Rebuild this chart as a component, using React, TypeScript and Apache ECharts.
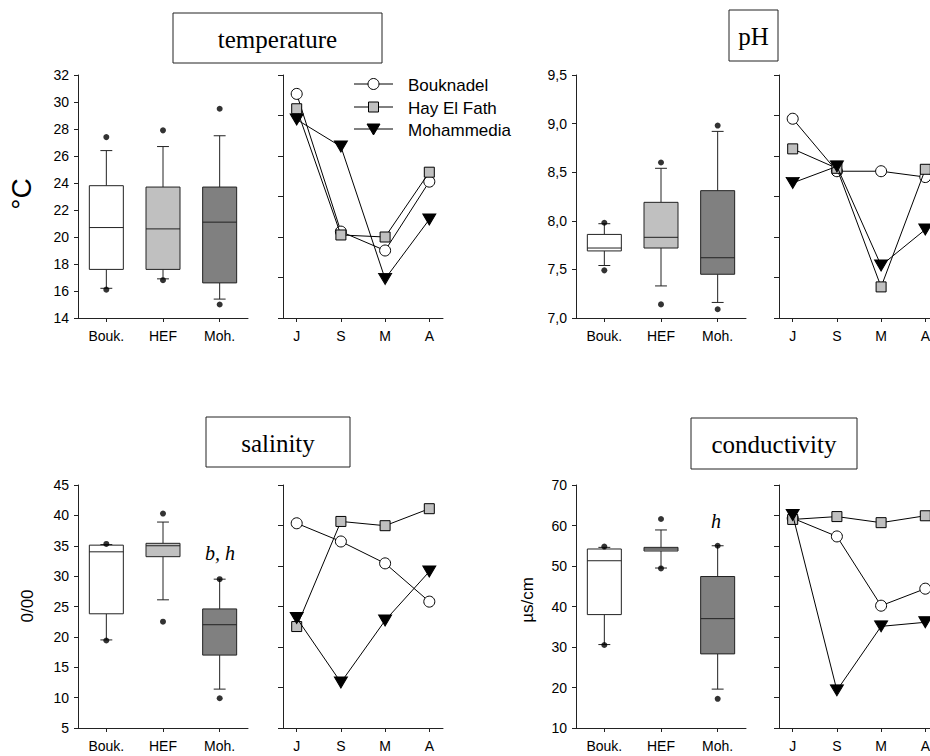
import React, { useEffect, useRef } from 'react';
import * as echarts from 'echarts';

// ---------- data ----------
const boxCategories = ['Bouk.', 'HEF', 'Moh.'];
const monthLabels = ['J', 'S', 'M', 'A'];
const siteNames = ['Bouknadel', 'Hay El Fath', 'Mohammedia'];

// box stats per site: [whiskerLow, Q1, median, Q3, whiskerHigh]
const tempBox = [
  [16.2, 17.6, 20.7, 23.8, 26.4],
  [16.9, 17.6, 20.6, 23.7, 26.7],
  [15.4, 16.6, 21.1, 23.7, 27.5],
];
const tempOutliers = [[0, 27.4], [0, 16.1], [1, 27.9], [1, 16.8], [2, 29.5], [2, 15.0]];
const tempBouknadel = [30.6, 20.4, 19.0, 24.1];
const tempHayElFath = [29.5, 20.15, 20.0, 24.8];
const tempMohammedia = [28.7, 26.7, 16.9, 21.3];

const phBox = [
  [7.54, 7.69, 7.72, 7.86, 7.97],
  [7.33, 7.72, 7.83, 8.19, 8.54],
  [7.16, 7.45, 7.62, 8.31, 8.92],
];
const phOutliers = [[0, 7.98], [0, 7.49], [1, 8.6], [1, 7.14], [2, 8.98], [2, 7.09]];
const phBouknadel = [9.05, 8.51, 8.51, 8.45];
const phHayElFath = [8.74, 8.54, 7.32, 8.53];
const phMohammedia = [8.39, 8.56, 7.54, 7.91];

const salBox = [
  [19.5, 23.8, 34.0, 35.1, 35.2],
  [26.1, 33.2, 35.0, 35.4, 38.9],
  [11.4, 17.0, 22.0, 24.6, 29.5],
];
const salOutliers = [[0, 35.3], [0, 19.4], [1, 40.3], [1, 22.5], [2, 29.5], [2, 9.9]];
const salBouknadel = [38.7, 35.7, 32.1, 25.8];
const salHayElFath = [21.7, 39.0, 38.3, 41.1];
const salMohammedia = [23.1, 12.5, 22.7, 30.75];

const condBox = [
  [30.6, 38.0, 51.3, 54.2, 54.6],
  [49.5, 53.7, 54.2, 54.6, 58.9],
  [19.6, 28.3, 37.0, 47.4, 55.0],
];
const condOutliers = [[0, 54.8], [0, 30.5], [1, 61.6], [1, 49.4], [2, 55.0], [2, 17.2]];
const condBouknadel = [61.8, 57.3, 40.2, 44.4];
const condHayElFath = [61.5, 62.2, 60.7, 62.4];
const condMohammedia = [62.6, 19.3, 35.1, 36.1];

// axis ranges
const tempRange = [14, 32, 2];
const phRange = [7, 9.5, 0.5];
const salRange = [5, 45, 5];
const condRange = [10, 70, 10];
const lineTickDivisions = [6, 6, 6, 8];
const monthPositions = [1, 2, 3, 4];

// ---------- styling ----------
const FONT_SANS = '"Liberation Sans", Arial, Helvetica, sans-serif';
const FONT_SERIF = '"Liberation Serif", "Times New Roman", Times, serif';
const AXIS = '#222';
const boxFills = ['#ffffff', '#c0c0c0', '#808080'];
const siteSymbols = [
  { symbol: 'circle', size: 11, fill: '#ffffff', rotate: 0 },
  { symbol: 'rect', size: 10, fill: '#c0c0c0', rotate: 0 },
  { symbol: 'triangle', size: [13, 11], fill: '#000000', rotate: 180 },
];

const panels = [
  { box: tempBox, out: tempOutliers, lines: [tempBouknadel, tempHayElFath, tempMohammedia], range: tempRange, fmt: (v: number) => String(v), boxLeft: 78, lineLeft: 283, top: 75 },
  { box: phBox, out: phOutliers, lines: [phBouknadel, phHayElFath, phMohammedia], range: phRange, fmt: (v: number) => v.toFixed(1).replace('.', ','), boxLeft: 576, lineLeft: 779, top: 75 },
  { box: salBox, out: salOutliers, lines: [salBouknadel, salHayElFath, salMohammedia], range: salRange, fmt: (v: number) => String(v), boxLeft: 78, lineLeft: 283, top: 485 },
  { box: condBox, out: condOutliers, lines: [condBouknadel, condHayElFath, condMohammedia], range: condRange, fmt: (v: number) => String(v), boxLeft: 576, lineLeft: 779, top: 485 },
];

const boxRenderer = (params: any, api: any) => {
  const i = api.value(0);
  const pLo = api.coord([i, api.value(1)]);
  const pQ1 = api.coord([i, api.value(2)]);
  const pMed = api.coord([i, api.value(3)]);
  const pQ3 = api.coord([i, api.value(4)]);
  const pHi = api.coord([i, api.value(5)]);
  const band = api.size([1, 0])[0];
  const bw = band * 0.6;
  const cw = band * 0.21;
  const cx = pMed[0];
  const ls = { stroke: AXIS, lineWidth: 1, fill: null };
  return {
    type: 'group',
    children: [
      { type: 'line', shape: { x1: cx, y1: pQ3[1], x2: cx, y2: pHi[1] }, style: ls },
      { type: 'line', shape: { x1: cx - cw / 2, y1: pHi[1], x2: cx + cw / 2, y2: pHi[1] }, style: ls },
      { type: 'line', shape: { x1: cx, y1: pQ1[1], x2: cx, y2: pLo[1] }, style: ls },
      { type: 'line', shape: { x1: cx - cw / 2, y1: pLo[1], x2: cx + cw / 2, y2: pLo[1] }, style: ls },
      { type: 'rect', shape: { x: cx - bw / 2, y: pQ3[1], width: bw, height: pQ1[1] - pQ3[1] }, style: { fill: boxFills[params.dataIndex], stroke: AXIS, lineWidth: 1 } },
      { type: 'line', shape: { x1: cx - bw / 2, y1: pMed[1], x2: cx + bw / 2, y2: pMed[1] }, style: ls },
    ],
  };
};

function titleBox(text: string, x: number, y: number, w: number, h: number) {
  return [
    { type: 'rect', shape: { x, y, width: w, height: h }, style: { fill: '#fff', stroke: AXIS, lineWidth: 1 }, z: 10 },
    {
      type: 'text', x: x + w / 2, y: y + h / 2 + 1, z: 11,
      style: { text, fontFamily: FONT_SERIF, fontSize: 25, fill: '#000', align: 'center', verticalAlign: 'middle', textAlign: 'center', textVerticalAlign: 'middle' },
    },
  ];
}

function plainText(text: string, x: number, y: number, size: number, family: string, opts: any = {}) {
  return {
    type: 'text', x, y, z: 11, rotation: opts.rotation || 0,
    style: {
      text, fontFamily: family, fontSize: size, fontStyle: opts.italic ? 'italic' : 'normal', fill: '#000',
      align: opts.align || 'center', verticalAlign: 'middle', textAlign: opts.align || 'center', textVerticalAlign: 'middle',
    },
  };
}

function buildOption() {
  const grid: any[] = [];
  const xAxis: any[] = [];
  const yAxis: any[] = [];
  const series: any[] = [];

  panels.forEach((p, pi) => {
    const [mn, mx, iv] = p.range;
    const bi = pi * 2;
    const li = pi * 2 + 1;
    grid.push({ left: p.boxLeft, top: p.top, width: 170, height: 243, containLabel: false, outerBoundsMode: 'none' });
    grid.push({ left: p.lineLeft, top: p.top, width: 160, height: 243, containLabel: false, outerBoundsMode: 'none' });

    const labelStyle = { color: '#000', fontSize: 14, fontFamily: FONT_SANS };
    xAxis.push({
      type: 'category', gridIndex: bi, data: boxCategories, boundaryGap: true,
      axisLine: { show: true, onZero: false, lineStyle: { color: AXIS, width: 1 } },
      axisTick: { show: true, alignWithLabel: true, length: 4, lineStyle: { color: AXIS } },
      axisLabel: { ...labelStyle, margin: 11 },
      splitLine: { show: false },
    });
    yAxis.push({
      type: 'value', gridIndex: bi, min: mn, max: mx, interval: iv,
      axisLine: { show: true, onZero: false, lineStyle: { color: AXIS, width: 1 } },
      axisTick: { show: true, length: 4, lineStyle: { color: AXIS } },
      axisLabel: { ...labelStyle, margin: 9, formatter: p.fmt },
      splitLine: { show: false },
    });
    xAxis.push({
      type: 'value', gridIndex: li, min: 0.69, max: 4.31,
      axisLine: { show: true, onZero: false, lineStyle: { color: AXIS, width: 1 } },
      axisTick: { show: true, length: 4, customValues: monthPositions, lineStyle: { color: AXIS } },
      axisLabel: { ...labelStyle, margin: 11, customValues: monthPositions, formatter: (v: number) => monthLabels[Math.round(v) - 1] || '' },
      splitLine: { show: false },
    });
    const nDiv = lineTickDivisions[pi];
    const lineTicks = Array.from({ length: nDiv + 1 }, (_, k) => mn + (k * (mx - mn)) / nDiv);
    yAxis.push({
      type: 'value', gridIndex: li, min: mn, max: mx,
      axisLine: { show: true, onZero: false, lineStyle: { color: AXIS, width: 1 } },
      axisTick: { show: true, length: 5, customValues: lineTicks, lineStyle: { color: AXIS } },
      axisLabel: { show: false },
      splitLine: { show: false },
    });

    series.push({
      type: 'custom', xAxisIndex: bi, yAxisIndex: bi,
      data: p.box.map((s, k) => [k, ...s]),
      encode: { x: 0, y: [1, 2, 3, 4, 5] },
      renderItem: boxRenderer, z: 2, silent: true,
    });
    series.push({
      type: 'scatter', xAxisIndex: bi, yAxisIndex: bi, data: p.out,
      symbol: 'circle', symbolSize: 6, itemStyle: { color: '#000' }, z: 3, silent: true,
    });
    p.lines.forEach((vals, si) => {
      const sy = siteSymbols[si];
      series.push({
        type: 'line', name: siteNames[si], xAxisIndex: li, yAxisIndex: li,
        data: vals.map((v, k) => [monthPositions[k], v]),
        symbol: sy.symbol, symbolSize: sy.size, symbolRotate: sy.rotate,
        showSymbol: true, showAllSymbol: true,
        lineStyle: { color: '#000', width: 1 },
        itemStyle: { color: sy.fill, borderColor: '#000', borderWidth: 1 },
        z: 3 + si, silent: true,
      });
    });
  });

  // legend drawn with graphic elements
  const legendRows = [84, 107, 129];
  const legendEls: any[] = [];
  legendRows.forEach((y, si) => {
    legendEls.push({ type: 'line', shape: { x1: 354, y1: y, x2: 393, y2: y }, style: { stroke: '#000', lineWidth: 1 }, z: 12 });
    const mx = 373.5;
    if (si === 0) legendEls.push({ type: 'circle', shape: { cx: mx, cy: y, r: 5.5 }, style: { fill: '#fff', stroke: '#000', lineWidth: 1 }, z: 13 });
    if (si === 1) legendEls.push({ type: 'rect', shape: { x: mx - 5, y: y - 5, width: 10, height: 10 }, style: { fill: '#c0c0c0', stroke: '#000', lineWidth: 1 }, z: 13 });
    if (si === 2) legendEls.push({ type: 'polygon', shape: { points: [[mx - 6.5, y - 5], [mx + 6.5, y - 5], [mx, y + 6]] }, style: { fill: '#000', stroke: '#000', lineWidth: 1 }, z: 13 });
    legendEls.push(plainText(siteNames[si], 408, y + 1, 17, FONT_SANS, { align: 'left' }));
  });

  const graphic: any[] = [
    ...titleBox('temperature', 173, 13, 209, 50),
    ...titleBox('pH', 729, 10, 49, 51),
    ...titleBox('salinity', 206, 417, 144, 50),
    ...titleBox('conductivity', 691, 418, 166, 51),
    plainText('°C', 21, 194, 28, FONT_SANS, { rotation: Math.PI / 2 }),
    plainText('0/00', 27, 606, 17, FONT_SANS, { rotation: Math.PI / 2 }),
    plainText('µs/cm', 527, 600, 17, FONT_SANS, { rotation: Math.PI / 2 }),
    plainText('b, h', 220, 553, 20, FONT_SERIF, { italic: true }),
    plainText('h', 716, 521, 20, FONT_SERIF, { italic: true }),
    ...legendEls,
  ];

  return {
    animation: false,
    backgroundColor: '#ffffff',
    grid, xAxis, yAxis, series, graphic,
  };
}

export default function App() {
  const ref = useRef<HTMLDivElement>(null);
  useEffect(() => {
    if (!ref.current) return;
    const chart = echarts.init(ref.current, undefined, { renderer: 'svg' });
    chart.setOption(buildOption() as any);
    return () => chart.dispose();
  }, []);
  return (
    <div
      ref={ref}
      style={{ position: 'absolute', left: 0, top: 0, width: 930, height: 756, background: '#fff' }}
    />
  );
}
